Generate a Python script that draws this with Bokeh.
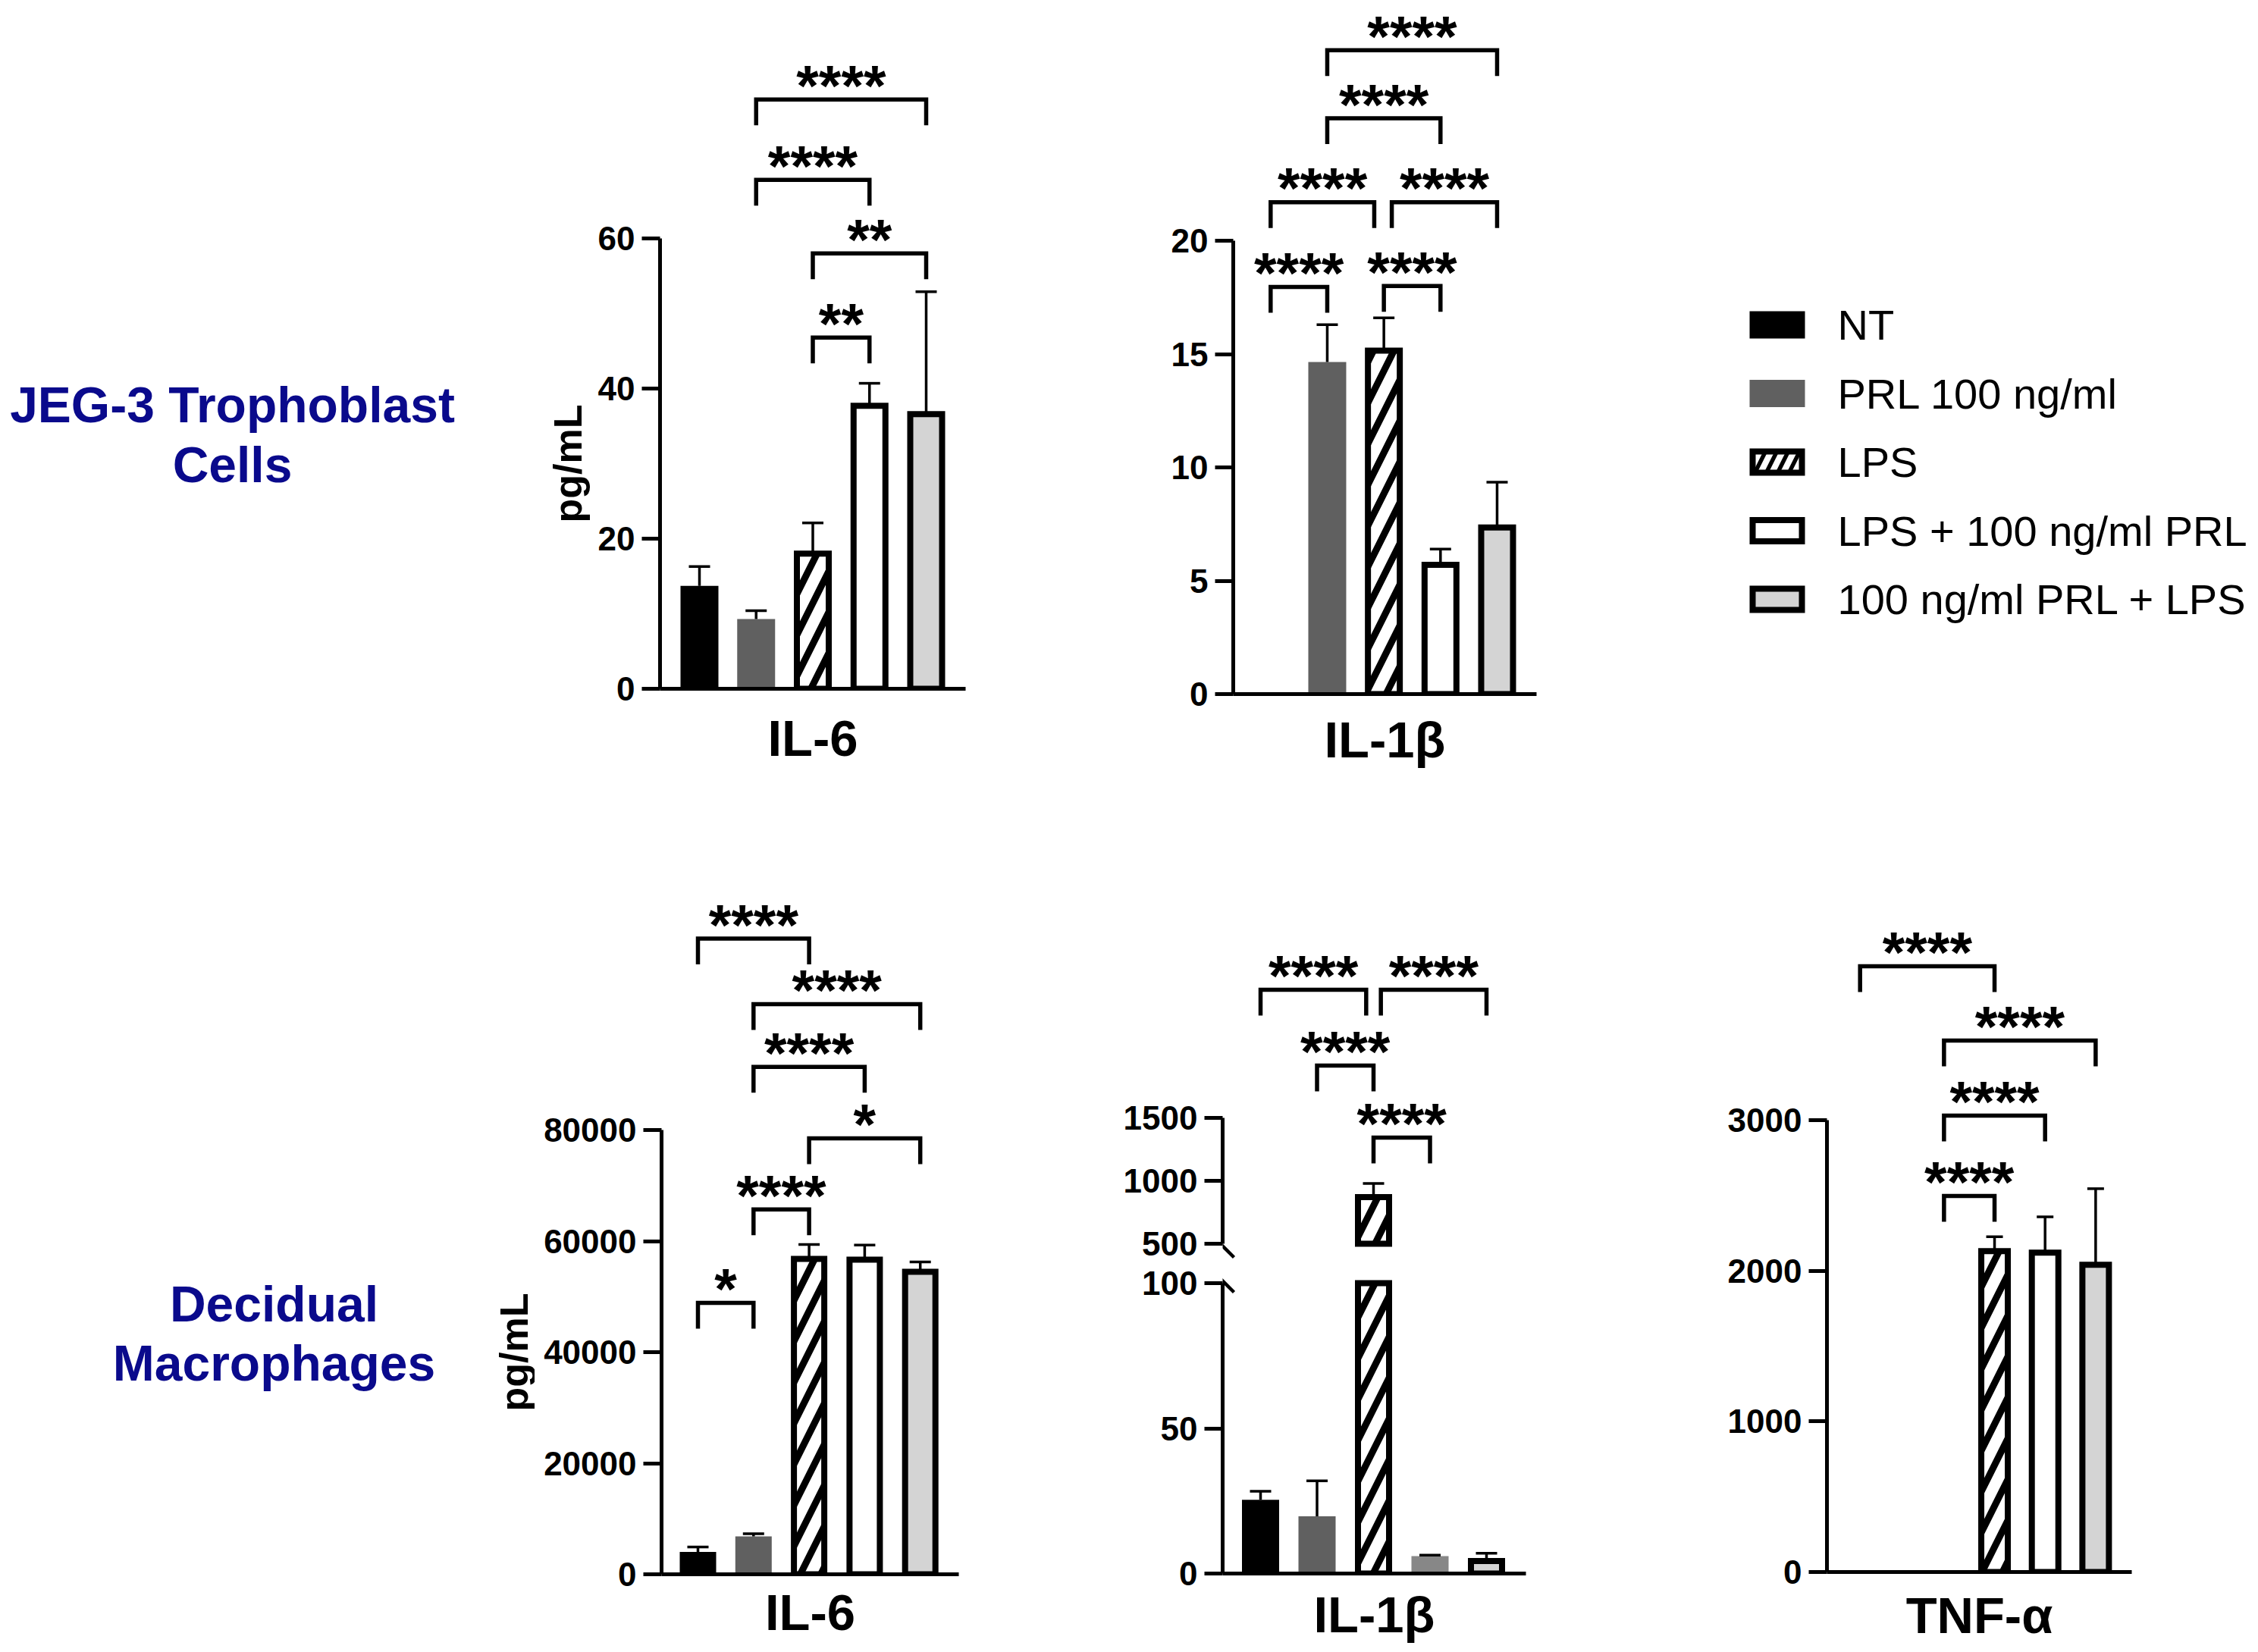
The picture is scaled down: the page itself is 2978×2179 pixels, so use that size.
import math
from bokeh.plotting import figure
from bokeh.layouts import row, column
from bokeh.models import Range1d, FixedTicker, NumeralTickFormatter, PolyAnnotation
from bokeh.core.properties import value
from bokeh.embed import file_html
from bokeh.resources import INLINE

NAN = float("nan")

# ---------------- data ----------------
groups = ["NT", "PRL 100 ng/ml", "LPS", "LPS + 100 ng/ml PRL", "100 ng/ml PRL + LPS"]
cell_labels_top = ["JEG-3 Trophoblast", "Cells"]
cell_labels_bottom = ["Decidual", "Macrophages"]
y_title = "pg/mL"

# JEG-3 trophoblast cells
jeg_il6_mean = [13.7, 9.3, 18.0, 37.7, 36.6]
jeg_il6_err = [2.6, 1.1, 4.1, 3.0, 16.3]
jeg_il6_ticks = [0, 20, 40, 60]
jeg_il6_sig = [(2, 3, 46.8, "**"), (2, 4, 58.0, "**"),
               (1, 3, 67.8, "****"), (1, 4, 78.5, "****")]

jeg_il1b_mean = [NAN, 14.65, 15.15, 5.7, 7.35]
jeg_il1b_err = [NAN, 1.65, 1.45, 0.7, 2.0]
jeg_il1b_ticks = [0, 5, 10, 15, 20]
jeg_il1b_sig = [(0, 1, 17.96, "****"), (2, 3, 18.0, "****"),
                (0, 1.83, 21.7, "****"), (2.14, 4, 21.7, "****"),
                (1, 3, 25.4, "****"), (1, 4, 28.4, "****")]

# Decidual macrophages
dm_il6_mean = [4030, 6830, 56800, 56650, 54470]
dm_il6_err = [870, 460, 2580, 2650, 1770]
dm_il6_ticks = [0, 20000, 40000, 60000, 80000]
dm_il6_sig = [(0, 1, 48870, "*"), (1, 2, 65700, "****"), (2, 4, 78500, "*"),
              (1, 3, 91360, "****"), (1, 4, 102660, "****"), (0, 2, 114460, "****")]

dm_il1b_mean = [25.4, 19.7, 871, 6.0, 4.3]
dm_il1b_err = [2.9, 12.2, 108, 0.3, 2.7]
dm_il1b_ticks_low = [0, 50, 100]
dm_il1b_ticks_high = [500, 1000, 1500]
dm_il1b_sig = [(1, 2, 1916, "****"), (2, 3, 1343, "****"),
               (0, 1.87, 2518, "****"), (2.13, 4, 2518, "****")]

dm_tnf_mean = [NAN, NAN, 2130, 2120, 2040]
dm_tnf_err = [NAN, NAN, 96, 238, 505]
dm_tnf_ticks = [0, 1000, 2000, 3000]
dm_tnf_sig = [(-0.66, 2, 4022, "****"), (1, 4, 3528, "****"),
              (1, 3, 3030, "****"), (1, 2, 2497, "****")]

# ---------------- style ----------------
FONT = "Liberation Sans"
NAVY = "#0a0a8c"
BAR_FILL = ["#000000", "#606060", "#ffffff", "#ffffff", "#d4d4d4"]
BAR_EDGE = [False, False, True, True, True]
BAR_HATCH = [None, None, "/", None, None]
EDGE_W = 8
HATCH_W = 9
HATCH_S = 54
ERR_W = 3.5
BR_W = 5.5
LEG_PX = 34
STAR_UP_PX = 19
AX_W = 5


def panel_fig(fig_box, frame_box, cat0, step, ybase, ppu, x_axis=True):
    L, T, R, B = fig_box
    fl, ft, fr, fb = frame_box
    x0 = (fl - cat0) / step
    p = figure(width=R - L, height=B - T,
               x_range=Range1d(x0, (fr - cat0) / step),
               y_range=Range1d(ybase, ybase + (fb - ft) / ppu),
               min_border_left=fl - L, min_border_right=R - fr,
               min_border_top=ft - T, min_border_bottom=B - fb,
               toolbar_location=None, output_backend="svg", frame_align=False,
               x_axis_location="below" if x_axis else None)
    p.xgrid.visible = False
    p.ygrid.visible = False
    p.outline_line_color = None
    p.background_fill_color = "white"
    p.border_fill_color = "white"
    return p, dict(step=step, ppu=ppu, x0=x0)


def canvas_fig(L, T, R, B):
    p = figure(width=R - L, height=B - T, x_range=Range1d(L, R), y_range=Range1d(-B, -T),
               min_border_left=0, min_border_right=0, min_border_top=0, min_border_bottom=0,
               toolbar_location=None, output_backend="svg", frame_align=False,
               x_axis_location=None, y_axis_location=None)
    p.xgrid.visible = False
    p.ygrid.visible = False
    p.outline_line_color = None
    return p


def style_yaxis(p, ticks, bounds):
    ax = p.yaxis[0]
    ax.ticker = FixedTicker(ticks=ticks)
    ax.bounds = bounds
    ax.formatter = NumeralTickFormatter(format="0")
    ax.axis_line_width = AX_W
    ax.axis_line_color = "black"
    ax.major_tick_line_width = AX_W
    ax.major_tick_out = 24
    ax.major_tick_in = 0
    ax.minor_tick_out = 0
    ax.minor_tick_in = 0
    ax.major_label_text_font = FONT
    ax.major_label_text_font_style = "bold"
    ax.major_label_text_font_size = "44px"
    ax.major_label_text_color = "black"
    ax.major_label_standoff = 9


def style_xaxis(p, label, standoff):
    ax = p.xaxis[0]
    ax.ticker = FixedTicker(ticks=[])
    ax.axis_line_width = AX_W
    ax.axis_line_color = "black"
    ax.major_tick_out = 0
    ax.major_tick_in = 0
    ax.minor_tick_out = 0
    ax.minor_tick_in = 0
    ax.major_label_text_font_size = "0px"
    ax.axis_label = label
    ax.axis_label_text_font = FONT
    ax.axis_label_text_font_style = "bold"
    ax.axis_label_text_font_size = "67px"
    ax.axis_label_text_color = "black"
    ax.axis_label_standoff = standoff


def draw_bars(p, g, means, errs, bar_px, cap_px, lo=0, hi=None, fills=BAR_FILL, edges=BAR_EDGE):
    step = g["step"]
    ex, ey0, ey1 = [], [], []
    for i, (m, e) in enumerate(zip(means, errs)):
        if math.isnan(m) or m <= lo:
            continue
        top = m if hi is None else min(m, hi)
        if edges[i]:
            p.vbar(x=[i], bottom=[lo], top=[top], width=(bar_px - EDGE_W) / step,
                   fill_color=fills[i], line_color="black", line_width=EDGE_W,
                   line_join="miter", hatch_pattern=BAR_HATCH[i], hatch_color="black",
                   hatch_weight=HATCH_W, hatch_scale=HATCH_S)
        else:
            p.vbar(x=[i], bottom=[lo], top=[top], width=bar_px / step,
                   fill_color=fills[i], line_color=None)
        ex.append(i)
        ey0.append(m)
        ey1.append(m + e)
    cap = cap_px / step
    p.segment(x0=ex, y0=ey0, x1=ex, y1=ey1, line_color="black", line_width=ERR_W)
    p.segment(x0=[x - cap for x in ex], y0=ey1, x1=[x + cap for x in ex], y1=ey1,
              line_color="black", line_width=ERR_W)


def draw_sig(p, g, sigs):
    leg = LEG_PX / g["ppu"]
    xs, ys, tx, ty, tt = [], [], [], [], []
    for a, b, y, lab in sigs:
        xs.append([a, a, b, b])
        ys.append([y - leg, y, y, y - leg])
        tx.append((a + b) / 2)
        ty.append(y + STAR_UP_PX / g["ppu"])
        tt.append(lab)
    p.multi_line(xs=xs, ys=ys, line_color="black", line_width=BR_W, line_join="miter")
    p.text(x=tx, y=ty, text=tt, text_font=value(FONT), text_font_style="bold",
           text_font_size="76px", text_align="center", text_baseline="middle",
           text_color="black")


def add_break(p, g, y_center, pix_up=15, pix_side=15):
    dx = pix_side / g["step"]
    dy = pix_up / g["ppu"]
    p.add_layout(PolyAnnotation(xs=[g["x0"] - dx, g["x0"] + dx],
                                ys=[y_center + dy, y_center - dy],
                                fill_alpha=0, line_color="black", line_alpha=1.0,
                                line_width=4.5))


def y_title_text(p, x_img, y_img):
    p.text(x=[x_img], y=[-y_img], text=[y_title], angle=math.pi / 2,
           text_font=value(FONT), text_font_style="bold", text_font_size="52px",
           text_align="center", text_baseline="middle", text_color="black")


# ---------------- top row ----------------
figA = canvas_fig(0, 0, 780, 1020)
figA.text(x=[306, 306], y=[-533, -612], text=cell_labels_top, text_font=value(FONT),
          text_font_style="bold", text_font_size="66px", text_color=NAVY,
          text_align="center", text_baseline="middle")
y_title_text(figA, 748, 908 - 30 * 9.9)

figB, gB = panel_fig((780, 0, 1380, 1020), (870, 0, 1273, 908), 922, 74.75, 0, 9.9)
style_yaxis(figB, jeg_il6_ticks, (0, 60))
style_xaxis(figB, "IL-6", 27)
draw_bars(figB, gB, jeg_il6_mean, jeg_il6_err, 50, 14)
draw_sig(figB, gB, jeg_il6_sig)

figC, gC = panel_fig((1380, 0, 2100, 1020), (1626, 0, 2026, 915), 1675.3, 74.67, 0, 29.9)
style_yaxis(figC, jeg_il1b_ticks, (0, 20))
style_xaxis(figC, "IL-1β", 22)
draw_bars(figC, gC, jeg_il1b_mean, jeg_il1b_err, 50, 14)
draw_sig(figC, gC, jeg_il1b_sig)

figD = canvas_fig(2100, 0, 2970, 1020)
leg_y = [-(428 + 90.5 * i) for i in range(len(groups))]
for i, name in enumerate(groups):
    if BAR_HATCH[i]:
        figD.rect(x=[2343.5], y=[leg_y[i]], width=73 - EDGE_W, height=36 - EDGE_W,
                  fill_color="black", line_color="black", line_width=EDGE_W,
                  line_join="miter", hatch_pattern=BAR_HATCH[i], hatch_color="white",
                  hatch_weight=8, hatch_scale=30)
    elif BAR_EDGE[i]:
        figD.rect(x=[2343.5], y=[leg_y[i]], width=73 - EDGE_W, height=36 - EDGE_W,
                  fill_color=BAR_FILL[i], line_color="black", line_width=EDGE_W,
                  line_join="miter")
    else:
        figD.rect(x=[2343.5], y=[leg_y[i]], width=73, height=36,
                  fill_color=BAR_FILL[i], line_color=None)
figD.text(x=[2423] * len(groups), y=leg_y,
          text=groups, text_font=value(FONT), text_font_size="56px",
          text_align="left", text_baseline="middle", text_color="black")

# ---------------- bottom row ----------------
figE = canvas_fig(0, 1020, 705, 2176)
figE.text(x=[361, 361], y=[-1719, -1797], text=cell_labels_bottom, text_font=value(FONT),
          text_font_style="bold", text_font_size="66px", text_color=NAVY,
          text_align="center", text_baseline="middle")
y_title_text(figE, 677, 2076 - 40000 * 0.007325)

figF, gF = panel_fig((705, 1020, 1380, 2176), (872, 1020, 1264, 2076), 920, 73.3, 0, 0.007325)
style_yaxis(figF, dm_il6_ticks, (0, 80000))
style_xaxis(figF, "IL-6", 12)
draw_bars(figF, gF, dm_il6_mean, dm_il6_err, 48, 14)
draw_sig(figF, gF, dm_il6_sig)

# IL-1beta with broken axis: upper and lower segments
il1b_fill = BAR_FILL[:3] + ["#878787"] + BAR_FILL[4:]
il1b_edge = BAR_EDGE[:3] + [False] + BAR_EDGE[4:]
ppu_hi = 0.166
ppu_lo = (2075 - 1692) / 100
figGu, gGu = panel_fig((1380, 1020, 2100, 1666), (1612, 1020, 2012, 1666), 1662, 74.5,
                       500 - (1666 - 1640) / ppu_hi, ppu_hi, x_axis=False)
style_yaxis(figGu, dm_il1b_ticks_high, (500, 1500))
draw_bars(figGu, gGu, dm_il1b_mean, dm_il1b_err, 49, 14, lo=500,
          fills=il1b_fill, edges=il1b_edge)
draw_sig(figGu, gGu, dm_il1b_sig)
add_break(figGu, gGu, 500 - 3 / ppu_hi)

figGl, gGl = panel_fig((1380, 1666, 2100, 2176), (1612, 1666, 2012, 2075), 1662, 74.5, 0, ppu_lo)
style_yaxis(figGl, dm_il1b_ticks_low, (0, 100))
style_xaxis(figGl, "IL-1β", 16)
draw_bars(figGl, gGl, dm_il1b_mean, dm_il1b_err, 49, 14, lo=0, hi=100,
          fills=il1b_fill, edges=il1b_edge)
add_break(figGl, gGl, 100 + 3 / ppu_lo)

figH, gH = panel_fig((2100, 1020, 2970, 2176), (2409, 1020, 2811, 2073), 2496.7, 66.67, 0, 0.19867)
style_yaxis(figH, dm_tnf_ticks, (0, 3000))
style_xaxis(figH, "TNF-α", 19)
draw_bars(figH, gH, dm_tnf_mean, dm_tnf_err, 43, 11)
draw_sig(figH, gH, dm_tnf_sig)

layout = column(row(figA, figB, figC, figD),
                row(figE, figF, column(figGu, figGl), figH))

open("out.html", "w").write(file_html(layout, INLINE, title="Cytokine secretion"))
